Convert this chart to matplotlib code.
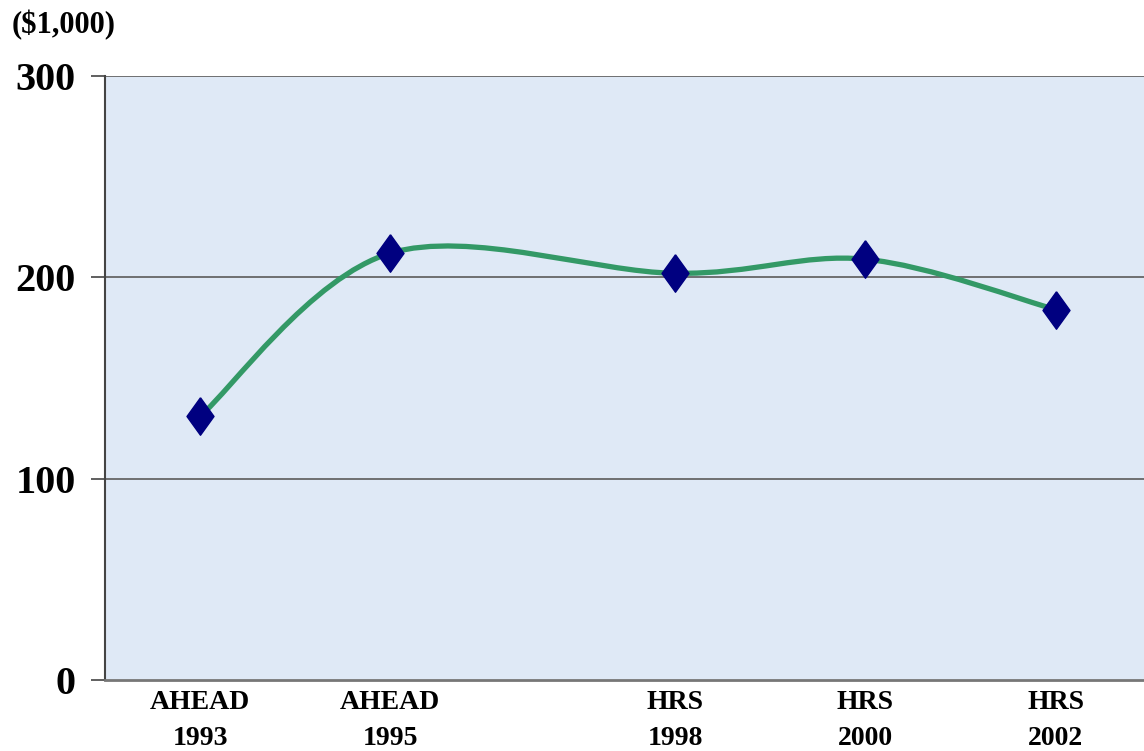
#! /usr/bin/env python3

import matplotlib
matplotlib.use('Agg')
import matplotlib.pyplot as plt
from matplotlib.path import Path
from matplotlib.patches import PathPatch

years = [1993, 1995, 1998, 2000, 2002]
surveys = ['AHEAD', 'AHEAD', 'HRS', 'HRS', 'HRS']
values = [131, 212, 202, 209, 184]   # ($1,000)
y_ticks = [0, 100, 200, 300]

plt.rcParams['font.family'] = ['Liberation Serif', 'DejaVu Serif']
plt.rcParams['font.weight'] = 'bold'

fig = plt.figure(figsize=(11.44, 7.51), dpi=100)
ax = fig.add_axes([105 / 1144, 71 / 751, 1039 / 1144, 604 / 751])
ax.set_facecolor('#dfe9f6')

# smoothed line, like Excel's "smoothed line" option (Catmull-Rom bezier)
pts = list(zip(years, values))
verts = [pts[0]]
codes = [Path.MOVETO]
for i in range(len(pts) - 1):
    p0 = pts[i - 1] if i > 0 else pts[i]
    p1 = pts[i]
    p2 = pts[i + 1]
    p3 = pts[i + 2] if i + 2 < len(pts) else pts[i + 1]
    c1 = (p1[0] + (p2[0] - p0[0]) / 6, p1[1] + (p2[1] - p0[1]) / 6)
    c2 = (p2[0] - (p3[0] - p1[0]) / 6, p2[1] - (p3[1] - p1[1]) / 6)
    verts += [c1, c2, p2]
    codes += [Path.CURVE4] * 3
ax.add_patch(PathPatch(Path(verts, codes), facecolor='none',
                       edgecolor='#339966', lw=3.8, zorder=3,
                       capstyle='round', joinstyle='round'))

diamond = [(0, 1), (0.72, 0), (0, -1), (-0.72, 0), (0, 1)]
ax.plot(years, values, linestyle='none', marker=diamond, markersize=27,
        color='#000080', zorder=4)

ax.set_xlim(1992, 2002.93)
ax.set_ylim(0, 300)
ax.set_yticks(y_ticks)
ax.set_yticklabels([str(v) for v in y_ticks], fontsize=29)
ax.set_xticks(years)
ax.set_xticklabels([f'{s}\n{y}' for s, y in zip(surveys, years)],
                   fontsize=20, linespacing=1.6)
ax.tick_params(axis='x', length=0, pad=7)
ax.tick_params(axis='y', length=10, width=1.2, color='#444444', pad=11)

for v in y_ticks[1:]:
    ax.axhline(v, color='#666666', lw=1.3, zorder=2)

for s in ['top', 'right']:
    ax.spines[s].set_visible(False)
ax.spines['left'].set_color('#444444')
ax.spines['left'].set_linewidth(1.5)
ax.spines['bottom'].set_color('#777777')
ax.spines['bottom'].set_linewidth(2)

fig.text(12 / 1144, 1 - 25 / 751, '($1,000)', fontsize=22,
         ha='left', va='center')

fig.savefig('out.png', dpi=100)
